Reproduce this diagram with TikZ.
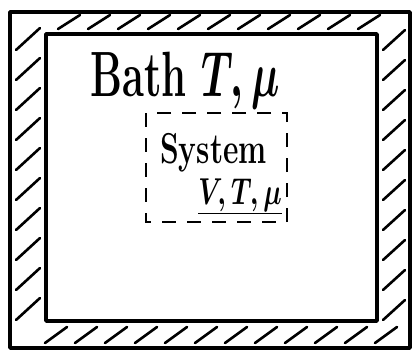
\RequirePackage{fix-cm}
\documentclass[tikz,border=0pt]{standalone}
\usetikzlibrary{positioning}
\begin{document}
\begin{tikzpicture}[x=1pt,y=-1pt,
  wall/.style={line width=3.5pt,line join=round},
  hatch/.style={line width=2.6pt,line cap=round},
  label/.style={inner sep=0pt,yscale=1.6,transform shape,font=\fontsize{40}{50}\selectfont\bfseries\boldmath}]
  \useasboundingbox (0,0) rectangle (417,354);
  % Waende des Bades
  \draw[wall] (10,12) rectangle (410,348);
  \draw[wall] (46,34) rectangle (377,321);
  % Schraffur
  \foreach \x in {58,88,...,370} \draw[hatch] (\x,29) -- ++(22,-14);
  \foreach \x in {45,75,...,390} \draw[hatch] (\x,343) -- ++(22,-16);
  \foreach \y in {50,80,...,330} \draw[hatch] (16,\y) -- ++(24,-22);
  \foreach \y in {50,80,...,330} \draw[hatch] (383,\y) -- ++(22,-20);
  % Bad
  \node[label,anchor=base west] (bath) at (90,96) {Bath $T,\mu$};
  % System
  \draw[line width=2.8pt,dash pattern=on 14pt off 11pt] (146,113) rectangle (287,222);
  \node[label,yscale=0.9,font=\fontsize{30}{40}\selectfont\bfseries,anchor=base west] (sys) at (160,163) {System};
  \node[label,yscale=0.9,font=\fontsize{26}{40}\selectfont\boldmath,anchor=base east] (vars) at (282,204) {$\underline{V,T,\mu}$};
\end{tikzpicture}
\end{document}
